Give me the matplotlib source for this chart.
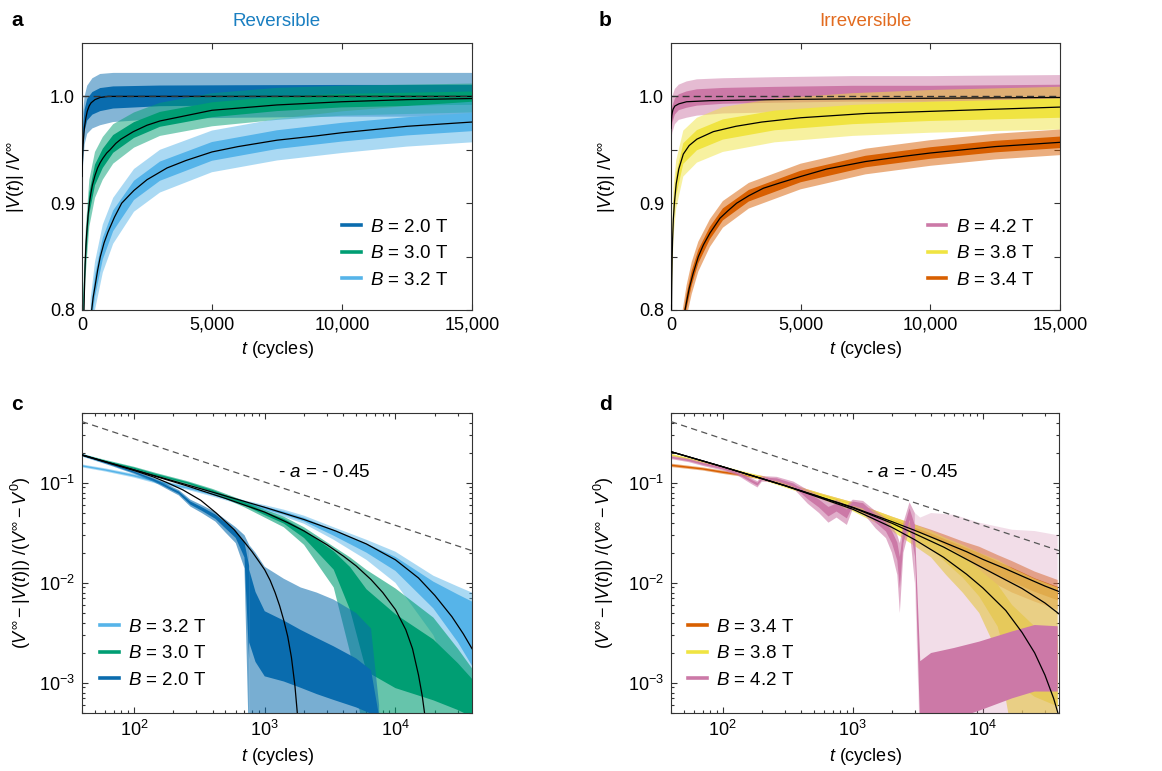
import numpy as np
import matplotlib
matplotlib.use("Agg")
import matplotlib.pyplot as plt
from matplotlib.lines import Line2D
from matplotlib.ticker import FixedLocator, FuncFormatter, LogLocator, LogFormatterMathtext, NullFormatter

plt.rcParams['font.family'] = ['Liberation Sans', 'DejaVu Sans']
plt.rcParams['mathtext.fontset'] = 'custom'
plt.rcParams['mathtext.rm'] = 'Liberation Sans'
plt.rcParams['mathtext.it'] = 'Liberation Sans:italic'
plt.rcParams['mathtext.bf'] = 'Liberation Sans:bold'

C_20 = '#0a6cae'
C_30 = '#009e73'
C_32 = '#56b4e9'
C_42 = '#cc79a7'
C_38 = '#f0e442'
C_34 = '#d85f00'

# ---------------- panel a (reversible, linear) ----------------
t_a20 = [0, 40, 100, 200, 400, 700, 1200, 3000, 6000, 10000, 15000]
lo_a20 = [0.905, 0.935, 0.955, 0.965, 0.970, 0.973, 0.976, 0.979, 0.980, 0.981, 0.981]
hi_a20 = [0.955, 0.985, 1.000, 1.010, 1.017, 1.021, 1.022, 1.022, 1.022, 1.022, 1.022]
ft_a20 = [0, 10, 25, 50, 75, 100, 150, 200, 275, 350, 500, 700, 1000, 15000]
fv_a20 = [0.925, 0.935, 0.945, 0.958, 0.966, 0.972, 0.980, 0.986, 0.991, 0.994, 0.997, 0.999, 1.0, 1.0]

t_a30 = [40, 80, 150, 282, 500, 800, 1200, 2000, 3000, 5000, 7500, 10000, 15000]
lo_a30 = [0.78, 0.80, 0.835, 0.878, 0.905, 0.922, 0.937, 0.952, 0.963, 0.972, 0.978, 0.982, 0.985]
hi_a30 = [0.81, 0.84, 0.878, 0.922, 0.948, 0.962, 0.974, 0.985, 0.994, 1.003, 1.008, 1.010, 1.012]
ft_a30 = [77, 100, 120, 150, 180, 230, 282, 340, 400, 500, 600, 700, 800, 950, 1077, 1300, 1500, 1974,
          2500, 3000, 4000, 5000, 6000, 7500, 10000, 12500, 15000]
fv_a30 = [0.800, 0.826, 0.842, 0.860, 0.872, 0.888, 0.900, 0.909, 0.917, 0.926, 0.933, 0.938, 0.942, 0.947,
          0.950, 0.956, 0.960, 0.967, 0.973, 0.977, 0.982, 0.987, 0.989, 0.992, 0.995, 0.997, 0.998]

t_a32 = [330, 500, 800, 1200, 2000, 3000, 5000, 7500, 10000, 12500, 15000]
lo_a32 = [0.77, 0.80, 0.835, 0.862, 0.892, 0.910, 0.929, 0.940, 0.947, 0.953, 0.957]
hi_a32 = [0.81, 0.845, 0.88, 0.905, 0.932, 0.950, 0.968, 0.979, 0.986, 0.991, 0.995]
ft_a32 = [372, 430, 500, 600, 705, 850, 1000, 1250, 1526, 1800, 2000, 2500, 3270, 4000, 5000, 6000,
          7500, 9000, 10000, 12500, 15000]
fv_a32 = [0.800, 0.812, 0.822, 0.837, 0.850, 0.863, 0.873, 0.887, 0.900, 0.907, 0.912, 0.922, 0.933,
          0.940, 0.948, 0.953, 0.959, 0.963, 0.966, 0.972, 0.976]

# ---------------- panel b (irreversible, linear) ----------------
t_b42 = [0, 50, 150, 300, 600, 1000, 2000, 4000, 7000, 10000, 15000]
lo_b42 = [0.955, 0.966, 0.974, 0.978, 0.980, 0.982, 0.984, 0.985, 0.986, 0.986, 0.987]
hi_b42 = [0.990, 1.000, 1.007, 1.011, 1.014, 1.016, 1.017, 1.018, 1.019, 1.019, 1.020]
ft_b42 = [0, 15, 30, 50, 80, 150, 300, 600, 1500, 4000, 8000, 15000]
fv_b42 = [0.970, 0.977, 0.982, 0.985, 0.988, 0.991, 0.993, 0.995, 0.996, 0.997, 0.998, 0.999]

t_b38 = [15, 40, 100, 200, 475, 1000, 2000, 4000, 7000, 10000, 15000]
lo_b38 = [0.78, 0.82, 0.87, 0.895, 0.925, 0.938, 0.948, 0.957, 0.963, 0.966, 0.969]
hi_b38 = [0.84, 0.875, 0.915, 0.94, 0.968, 0.98, 0.99, 0.998, 1.003, 1.006, 1.009]
ft_b38 = [20, 30, 45, 60, 90, 130, 200, 300, 475, 700, 1000, 1632, 2500, 3500, 5000, 7500, 10000, 12500, 15000]
fv_b38 = [0.80, 0.825, 0.85, 0.865, 0.885, 0.90, 0.918, 0.932, 0.946, 0.954, 0.960, 0.967, 0.972, 0.976,
          0.980, 0.984, 0.986, 0.988, 0.990]

t_b34 = [450, 600, 800, 1054, 1500, 2000, 3000, 5000, 7500, 10000, 12500, 15000]
lo_b34 = [0.77, 0.793, 0.815, 0.836, 0.859, 0.877, 0.895, 0.913, 0.927, 0.935, 0.941, 0.945]
hi_b34 = [0.80, 0.823, 0.845, 0.864, 0.885, 0.902, 0.919, 0.937, 0.951, 0.959, 0.965, 0.969]
ft_b34 = [540, 620, 700, 850, 1054, 1250, 1500, 1890, 2200, 2530, 3000, 3560, 4200, 5000, 6000,
          7500, 9000, 10000, 12500, 15000]
fv_b34 = [0.800, 0.810, 0.820, 0.834, 0.850, 0.861, 0.872, 0.886, 0.893, 0.900, 0.907, 0.914, 0.919,
          0.925, 0.932, 0.939, 0.944, 0.947, 0.953, 0.957]

# ---------------- panel c (reversible, log-log) ----------------
t_c32 = [40, 60, 100, 150, 250, 400, 700, 1000, 1400, 2000, 3370, 6000, 10000, 19500, 30000, 38500]
c_c32 = [0.148, 0.135, 0.118, 0.103, 0.09, 0.077, 0.063, 0.056, 0.05, 0.043, 0.032, 0.023, 0.0165, 0.0092, 0.0066, 0.0055]
hi_c32 = [0.153, 0.14, 0.123, 0.108, 0.094, 0.081, 0.067, 0.06, 0.054, 0.047, 0.036, 0.027, 0.0205, 0.0118, 0.0092, 0.008]
lo_c32 = [0.143, 0.13, 0.113, 0.098, 0.086, 0.073, 0.059, 0.052, 0.046, 0.039, 0.027, 0.017, 0.010, 0.003, 0.0008, 0.0003]
ft_c32 = [40, 100, 300, 1000, 2000, 3500, 6000, 10000, 15000, 20000, 27000, 33000, 38500]
fv_c32 = [0.19, 0.135, 0.09, 0.057, 0.043, 0.033, 0.0245, 0.017, 0.0112, 0.0075, 0.0046, 0.0031, 0.0022]

t_c30 = [40, 60, 100, 150, 257, 400, 700, 1000, 1400, 2000, 3370, 4500, 6000, 10000, 19500, 30000, 38500]
c_c30 = [0.19, 0.165, 0.14, 0.12, 0.10, 0.083, 0.062, 0.05, 0.042, 0.032, 0.019, 0.012, 0.006, 0.003, 0.0018, 0.0012, 0.0009]
hi_c30 = [0.195, 0.17, 0.145, 0.125, 0.104, 0.087, 0.066, 0.054, 0.046, 0.036, 0.023, 0.018, 0.0135, 0.0088, 0.0045, 0.0022, 0.0014]
lo_c30 = [0.185, 0.16, 0.135, 0.115, 0.096, 0.079, 0.057, 0.045, 0.036, 0.024, 0.009, 0.002, 0.0002, 0.0002, 0.0002, 0.0002, 0.0002]
ft_c30 = [40, 100, 250, 500, 1000, 1500, 2000, 3000, 4000, 5000, 6500, 8000, 10000, 12000, 13500, 15000, 16000, 17000]
fv_c30 = [0.19, 0.135, 0.094, 0.07, 0.051, 0.04, 0.033, 0.024, 0.0185, 0.0148, 0.0108, 0.008, 0.0054, 0.0034, 0.0022, 0.0012, 0.00075, 0.00042]

t_c20 = [40, 70, 100, 140, 190, 220, 270, 330, 420, 500, 600, 700, 760, 850, 1000, 1400, 1884, 2500, 3370, 5000, 6500, 7500]
c_c20 = [0.19, 0.15, 0.128, 0.108, 0.088, 0.08, 0.063, 0.055, 0.046, 0.038, 0.031, 0.022, 0.010, 0.005, 0.003, 0.0025, 0.002, 0.0016, 0.0013, 0.001, 0.0008, 0.0004]
hi_c20 = [0.196, 0.155, 0.133, 0.113, 0.093, 0.085, 0.068, 0.06, 0.051, 0.043, 0.036, 0.03, 0.024, 0.02, 0.0145, 0.011, 0.009, 0.008, 0.0068, 0.005, 0.0035, 0.0006]
lo_c20 = [0.184, 0.145, 0.123, 0.103, 0.083, 0.075, 0.058, 0.05, 0.041, 0.032, 0.025, 0.014, 0.0002, 0.0002, 0.0002, 0.0002, 0.0002, 0.0002, 0.0002, 0.0002, 0.0002, 0.0002]
ft_c20 = [40, 60, 100, 140, 181, 237, 324, 425, 584, 700, 800, 900, 1000, 1100, 1200, 1300, 1400, 1500, 1600, 1700, 1775]
fv_c20 = [0.19, 0.162, 0.133, 0.115, 0.1, 0.085, 0.067, 0.05, 0.034, 0.0255, 0.0205, 0.0165, 0.0135, 0.0106, 0.008, 0.0059, 0.0042, 0.0029, 0.0018, 0.00095, 0.0005]

# ---------------- panel d (irreversible, log-log) ----------------
t_d = [40, 70, 100, 200, 300, 600, 1000, 2000, 2900, 4000, 5220, 7000, 9380, 13000, 16800, 25000, 37600]
c_d34 = [0.150, 0.138, 0.128, 0.113, 0.097, 0.073, 0.059, 0.041, 0.034, 0.029, 0.0248, 0.021, 0.0176, 0.0145, 0.0125, 0.0098, 0.008]
hi_d34 = [0.156, 0.143, 0.133, 0.118, 0.101, 0.077, 0.064, 0.046, 0.039, 0.034, 0.030, 0.026, 0.023, 0.019, 0.0165, 0.013, 0.0107]
lo_d34 = [0.144, 0.133, 0.123, 0.108, 0.093, 0.069, 0.055, 0.037, 0.030, 0.024, 0.020, 0.015, 0.012, 0.0095, 0.008, 0.0065, 0.0054]
c_d38 = [0.19, 0.162, 0.142, 0.112, 0.095, 0.072, 0.058, 0.04, 0.032, 0.026, 0.020, 0.015, 0.010, 0.006, 0.003, 0.0015, 0.001]
hi_d38 = [0.195, 0.167, 0.147, 0.117, 0.10, 0.077, 0.064, 0.046, 0.039, 0.033, 0.028, 0.024, 0.020, 0.017, 0.014, 0.011, 0.009]
lo_d38 = [0.185, 0.157, 0.137, 0.107, 0.09, 0.067, 0.052, 0.033, 0.024, 0.018, 0.012, 0.008, 0.005, 0.002, 0.0003, 0.0003, 0.0003]

t_d42 = [40, 55, 70, 100, 130, 165, 185, 200, 260, 350, 450, 550, 650, 750, 900, 1000, 1200, 1500, 1800,
         2000, 2200, 2300, 2450, 2730, 3000, 3300, 4000, 6000, 9380, 16800, 25000, 37600]
c_d42 = [0.18, 0.168, 0.155, 0.14, 0.125, 0.105, 0.097, 0.11, 0.108, 0.095, 0.075, 0.063, 0.052, 0.058, 0.05,
         0.063, 0.06, 0.045, 0.037, 0.03, 0.022, 0.014, 0.03, 0.05, 0.03, 0.0004, 0.0005, 0.0006, 0.0008, 0.0012, 0.0015, 0.0015]
hi_d42 = [0.187, 0.175, 0.162, 0.147, 0.131, 0.112, 0.104, 0.117, 0.115, 0.103, 0.085, 0.075, 0.065, 0.068, 0.06,
          0.068, 0.066, 0.052, 0.044, 0.037, 0.03, 0.025, 0.04, 0.064, 0.05, 0.045, 0.05, 0.048, 0.04, 0.034, 0.033, 0.03]
lo_d42 = [0.173, 0.161, 0.148, 0.133, 0.119, 0.098, 0.09, 0.103, 0.101, 0.088, 0.062, 0.05, 0.04, 0.045, 0.038,
          0.055, 0.05, 0.035, 0.028, 0.02, 0.012, 0.005, 0.02, 0.035, 0.01, 0.0002, 0.0002, 0.0002, 0.0002, 0.0002, 0.0002, 0.0002]

ft_d34 = [40, 100, 300, 1000, 2000, 3000, 5000, 7500, 10000, 15000, 20000, 30000, 38500]
fv_d34 = [0.205, 0.145, 0.094, 0.057, 0.041, 0.0335, 0.0255, 0.0205, 0.0172, 0.0138, 0.0117, 0.0093, 0.0082]
ft_d38 = [40, 100, 300, 1000, 2000, 3000, 5000, 7500, 10000, 15000, 20000, 30000, 38500]
fv_d38 = [0.205, 0.145, 0.094, 0.0565, 0.0395, 0.031, 0.0228, 0.0172, 0.0141, 0.0107, 0.0088, 0.0063, 0.0049]
ft_d42 = [40, 100, 300, 1000, 2000, 3000, 5000, 7500, 10000, 15000, 20000, 25000, 30000, 35000, 38500]
fv_d42 = [0.205, 0.145, 0.094, 0.0545, 0.0359, 0.027, 0.018, 0.0122, 0.0089, 0.0053, 0.0032, 0.002, 0.0012, 0.0007, 0.00046]

# reference power law (slope -0.45) end points
t_ref = [40, 38500]
v_ref = [0.41, 0.021]


def band_lin(ax, t, lo, hi, color, a_out=0.5, core=0.45):
    t, lo, hi = map(np.asarray, (t, lo, hi))
    mid = (lo + hi) / 2
    ax.fill_between(t, lo, hi, color=color, alpha=a_out, ec='none', zorder=2)
    ax.fill_between(t, mid + core * (lo - mid), mid + core * (hi - mid), color=color, ec='none', zorder=2)


def band_log(ax, t, c, lo, hi, color, a_out=0.5, core=0.45):
    t, c, lo, hi = map(np.asarray, (t, c, lo, hi))
    ax.fill_between(t, lo, hi, color=color, alpha=a_out, ec='none', zorder=2)
    ax.fill_between(t, c * (lo / c) ** core, c * (hi / c) ** core, color=color, ec='none', zorder=2)


def fit(ax, t, v):
    ax.plot(t, v, color='black', lw=0.9, zorder=5)


def style(ax):
    for s in ax.spines.values():
        s.set_color('#333333')
        s.set_linewidth(0.8)
    ax.tick_params(which='both', direction='in', top=True, right=True, colors='#333333',
                   labelcolor='black', labelsize=13, width=0.8)
    ax.tick_params(which='major', length=4.5, pad=5)
    ax.tick_params(which='minor', length=2.5)


def legend(ax, colors, labels, x, y):
    hs = [Line2D([], [], color=c, lw=2.6) for c in colors]
    ax.legend(hs, labels, loc='lower left', bbox_to_anchor=(x, y), frameon=False, fontsize=13.5,
              handlelength=1.0, handletextpad=0.5, labelspacing=0.5, borderpad=0, borderaxespad=0)


def lin_axes(ax):
    style(ax)
    ax.set_xlim(0, 15000)
    ax.set_ylim(0.8, 1.05)
    ax.set_xticks([0, 5000, 10000, 15000])
    ax.xaxis.set_major_formatter(FuncFormatter(lambda v, p: f'{int(v):,}'))
    ax.set_yticks([0.8, 0.9, 1.0])
    ax.set_yticklabels(['0.8', '0.9', '1.0'])
    ax.yaxis.set_minor_locator(FixedLocator([0.85, 0.95]))
    ax.tick_params(axis='y', which='minor', length=4.5)
    ax.set_xlabel(r'$t$ (cycles)', fontsize=13, labelpad=4)
    ax.set_ylabel(r'$|V(t)|\ /V^{\infty}$', fontsize=13)
    ax.axhline(1.0, color='#333333', lw=1.0, dashes=(5, 3), zorder=6)


def log_axes(ax):
    style(ax)
    ax.set_xscale('log')
    ax.set_yscale('log')
    ax.set_xlim(40, 38500)
    ax.set_ylim(5e-4, 0.5)
    ax.xaxis.set_major_locator(FixedLocator([1e2, 1e3, 1e4]))
    ax.yaxis.set_major_locator(FixedLocator([1e-3, 1e-2, 1e-1]))
    ax.xaxis.set_major_formatter(LogFormatterMathtext())
    ax.yaxis.set_major_formatter(LogFormatterMathtext())
    ax.xaxis.set_minor_locator(LogLocator(base=10, subs=np.arange(2, 10), numticks=20))
    ax.yaxis.set_minor_locator(LogLocator(base=10, subs=np.arange(2, 10), numticks=20))
    ax.xaxis.set_minor_formatter(NullFormatter())
    ax.yaxis.set_minor_formatter(NullFormatter())
    ax.set_xlabel(r'$t$ (cycles)', fontsize=13, labelpad=4)
    ax.set_ylabel(r'$(V^{\infty} - |V(t)|)\ /(V^{\infty} - V^{0})$', fontsize=13)
    ax.plot(t_ref, v_ref, color='#555555', lw=0.9, dashes=(5, 3.5), zorder=6)
    ax.text(2850, 0.128, r'- $a$ = - 0.45', fontsize=13.5, ha='center', va='center')


fig = plt.figure(figsize=(11.62, 7.71), dpi=100)
W, H = 1162, 771
ax_a = fig.add_axes([82 / W, 1 - 310 / H, 390 / W, 267 / H])
ax_b = fig.add_axes([671 / W, 1 - 310 / H, 389 / W, 267 / H])
ax_c = fig.add_axes([82 / W, 1 - 713 / H, 390 / W, 300 / H])
ax_d = fig.add_axes([671 / W, 1 - 713 / H, 388 / W, 300 / H])

# a
band_lin(ax_a, t_a20, lo_a20, hi_a20, C_20)
band_lin(ax_a, t_a30, lo_a30, hi_a30, C_30)
band_lin(ax_a, t_a32, lo_a32, hi_a32, C_32)
for t, v in [(ft_a20, fv_a20), (ft_a30, fv_a30), (ft_a32, fv_a32)]:
    fit(ax_a, t, v)
lin_axes(ax_a)
ax_a.yaxis.set_label_coords(-0.14, 0.5)
legend(ax_a, [C_20, C_30, C_32], [r'$B$ = 2.0 T', r'$B$ = 3.0 T', r'$B$ = 3.2 T'], 0.667, 0.08)
ax_a.text(0.5, 1.08, 'Reversible', transform=ax_a.transAxes, ha='center', va='center',
          fontsize=13.5, color='#1a7fc1')

# b
band_lin(ax_b, t_b42, lo_b42, hi_b42, C_42)
band_lin(ax_b, t_b38, lo_b38, hi_b38, C_38)
band_lin(ax_b, t_b34, lo_b34, hi_b34, C_34)
for t, v in [(ft_b42, fv_b42), (ft_b38, fv_b38), (ft_b34, fv_b34)]:
    fit(ax_b, t, v)
lin_axes(ax_b)
ax_b.yaxis.set_label_coords(-0.136, 0.5)
legend(ax_b, [C_42, C_38, C_34], [r'$B$ = 4.2 T', r'$B$ = 3.8 T', r'$B$ = 3.4 T'], 0.66, 0.08)
ax_b.text(0.5, 1.08, 'Irreversible', transform=ax_b.transAxes, ha='center', va='center',
          fontsize=13.5, color='#e26b1f')

# c
band_log(ax_c, t_c32, c_c32, lo_c32, hi_c32, C_32)
band_log(ax_c, t_c30, c_c30, lo_c30, hi_c30, C_30, a_out=0.6)
band_log(ax_c, t_c20[:13], c_c20[:13], lo_c20[:13], hi_c20[:13], C_20, a_out=0.6)
band_log(ax_c, t_c20[12:], c_c20[12:], lo_c20[12:], hi_c20[12:], C_20, a_out=0.55, core=0.35)
for t, v in [(ft_c32, fv_c32), (ft_c30, fv_c30), (ft_c20, fv_c20)]:
    fit(ax_c, t, v)
log_axes(ax_c)
ax_c.yaxis.set_label_coords(-0.126, 0.5)
legend(ax_c, [C_32, C_30, C_20], [r'$B$ = 3.2 T', r'$B$ = 3.0 T', r'$B$ = 2.0 T'], 0.046, 0.08)

# d
band_log(ax_d, t_d, c_d34, lo_d34, hi_d34, C_34)
band_log(ax_d, t_d, c_d38, lo_d38, hi_d38, C_38, a_out=0.7)
band_log(ax_d, t_d42[:25], c_d42[:25], lo_d42[:25], hi_d42[:25], C_42, a_out=0.6)
band_log(ax_d, t_d42[24:], c_d42[24:], lo_d42[24:], hi_d42[24:], C_42, a_out=0.25, core=0.3)
for t, v in [(ft_d34, fv_d34), (ft_d38, fv_d38), (ft_d42, fv_d42)]:
    fit(ax_d, t, v)
log_axes(ax_d)
ax_d.yaxis.set_label_coords(-0.141, 0.5)
legend(ax_d, [C_34, C_38, C_42], [r'$B$ = 3.4 T', r'$B$ = 3.8 T', r'$B$ = 4.2 T'], 0.044, 0.08)

for lab, x, y in [('a', 11, 20), ('b', 599, 20), ('c', 11, 404), ('d', 599, 404)]:
    fig.text(x / W, 1 - y / H, lab, fontsize=15, fontweight='bold', ha='left', va='center')

fig.savefig('out.png', dpi=100)
